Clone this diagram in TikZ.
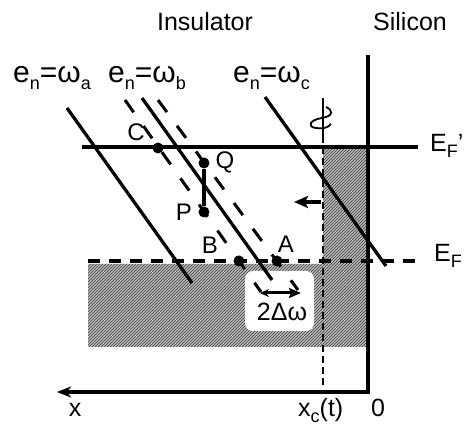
\documentclass[tikz,border=0pt]{standalone}
\usepackage{fontspec}
\setmainfont{Liberation Sans}
\usetikzlibrary{patterns,arrows.meta}
\newcommand\lowsub[1]{\raisebox{-0.4ex}{\fontsize{18}{18}\selectfont #1}}
\begin{document}
\begin{tikzpicture}[x=1pt,y=-1pt,
  heavy/.style={line width=3.3pt},
  pardash/.style={line width=3pt,dash pattern=on 15pt off 17pt},
  dot/.style={circle,fill=black,inner sep=0pt,minimum size=11pt},
  lbl/.style={font=\fontsize{24}{24}\selectfont,inner sep=0pt},
  big/.style={font=\fontsize{25}{25}\selectfont,inner sep=0pt},
  elbl/.style={font=\fontsize{30}{30}\selectfont,inner sep=0pt,anchor=base west},
  shade/.style={fill=black!28},
  hatch/.style={pattern=north east lines,pattern color=black!75}]
\useasboundingbox (0,0) rectangle (464,427);
% shaded region
\path[shade] (88,264) -- (323,264) -- (323,149) -- (368,149) -- (368,347) -- (88,347) -- cycle;
\path[hatch] (88,264) -- (323,264) -- (323,149) -- (368,149) -- (368,347) -- (88,347) -- cycle;
\fill[white,rounded corners=8pt] (245,271) rectangle (314,331);
% titles
\node[big] (ins) at (205,22) {Insulator};
\node[big] (sil) at (410,22) {Silicon};
% energy labels
\node[elbl] (la) at (13,83) {e\lowsub{n}=ω\lowsub{a}};
\node[elbl] (lb) at (108,83) {e\lowsub{n}=ω\lowsub{b}};
\node[elbl] (lc) at (233,83) {e\lowsub{n}=ω\lowsub{c}};
% coordinates for lines
\coordinate (a1) at (67,108); \coordinate (a2) at (192,283);
\coordinate (b1) at (142,98); \coordinate (b2) at (272,280);
\coordinate (bl1) at (125,100); \coordinate (bl2) at (261,292);
\coordinate (br1) at (158,100); \coordinate (br2) at (298,290);
\coordinate (c1) at (265,97); \coordinate (c2) at (386,266);
\coordinate (efp1) at (82,147); \coordinate (efp2) at (418,147);
\coordinate (ef1) at (88,261); \coordinate (ef2) at (416,261);
\coordinate (si1) at (368,55); \coordinate (si0) at (368,392); \coordinate (xend) at (57,392);
\coordinate (vd1) at (323,98); \coordinate (vd2) at (323,136); \coordinate (vd3) at (323,388);
\coordinate (ar1) at (321,202); \coordinate (ar2) at (294,202);
\coordinate (dw1) at (260,293); \coordinate (dw2) at (301,293);
% fermi levels
\draw[heavy] (efp1) -- (efp2);
\draw[heavy,dash pattern=on 12pt off 9pt] (ef1) -- (ef2);
% silicon interface and x axis
\draw[heavy,-{Stealth[length=14pt,width=11pt,inset=4pt]}] (si1) -- (si0) -- (xend);
% moving boundary
\draw[line width=1.6pt] (vd1) -- (vd2);
\draw[line width=1.5pt,dash pattern=on 7pt off 4pt] (vd2) -- (vd3);
\draw[line width=1.8pt] (326,107) .. controls (333,110) and (334,116) .. (322,118)
  .. controls (309,120) and (307,127) .. (316,128) .. controls (322,129) and (328,128) .. (331,124);
% level lines
\draw[heavy] (a1) -- (a2);
\draw[heavy] (b1) -- (b2);
\draw[pardash] (bl1) -- (bl2);
\draw[pardash] (br1) -- (br2);
\draw[heavy] (c1) -- (c2);
% arrows
\draw[line width=3.3pt,-{Stealth[length=14pt,width=12pt,inset=3pt]}] (ar1) -- (ar2);
\draw[line width=3pt,{Stealth[length=9pt,width=8pt]}-{Stealth[length=12pt,width=10pt,inset=2pt]}] (dw1) -- (dw2);
\node[big] (dlt) at (282,312) {2Δω};
% points
\node[dot] (C) at (158,148) {};
\node[dot] (Q) at (204,163) {};
\node[dot] (P) at (204,212) {};
\node[dot] (B) at (239,261) {};
\node[dot] (A) at (277,261) {};
\draw[line width=3.3pt] (P) -- (Q);
\node[lbl] (Cl) at (136,132) {C};
\node[lbl] (Ql) at (225,162) {Q};
\node[lbl] (Pl) at (184,212) {P};
\node[lbl] (Bl) at (210,245) {B};
\node[lbl] (Al) at (286,244) {A};
% Fermi labels
\node[big,anchor=base west] (EFp) at (430,152) {E\lowsub{F}'};
\node[big,anchor=base west] (EF) at (434,262) {E\lowsub{F}};
% axis labels
\node[big,anchor=base] (xl) at (75,417) {x};
\node[big,anchor=base west] (xcl) at (298,417) {x\lowsub{c}(t)};
\node[big,anchor=base] (zl) at (378,417) {0};
\end{tikzpicture}
\end{document}
